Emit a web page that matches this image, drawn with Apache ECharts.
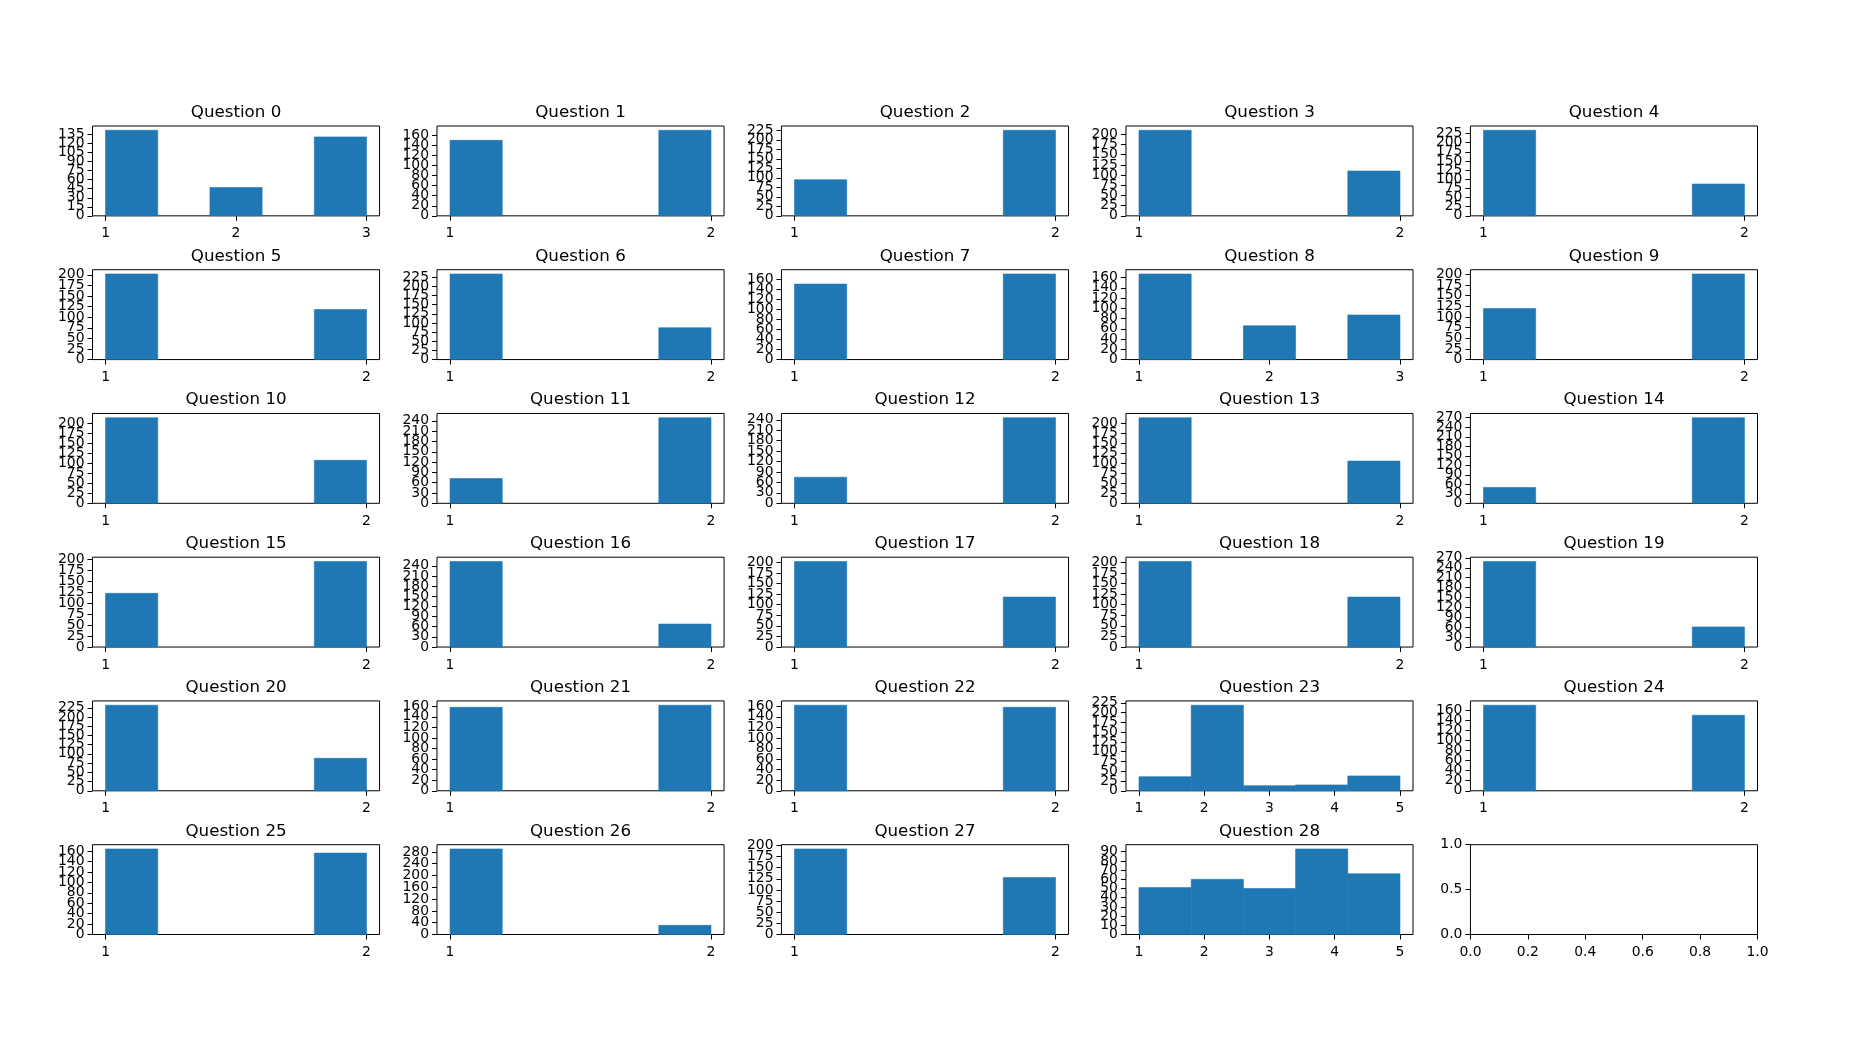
<!DOCTYPE html>
<html>
<head>
<meta charset="utf-8">
<script src="https://cdn.jsdelivr.net/npm/echarts@6/dist/echarts.min.js"></script>
<style>html,body{margin:0;padding:0;background:#fff;}#chart{width:1850px;height:1050px;}</style>
</head>
<body>
<div id="chart"></div>
<script>
// ---- data ----
const titles = Array.from({length: 29}, (_, i) => 'Question ' + i);
const levels = [
  [1,2,3],[1,2],[1,2],[1,2],[1,2],
  [1,2],[1,2],[1,2],[1,2,3],[1,2],
  [1,2],[1,2],[1,2],[1,2],[1,2],
  [1,2],[1,2],[1,2],[1,2],[1,2],
  [1,2],[1,2],[1,2],[1,2,3,4,5],[1,2],
  [1,2],[1,2],[1,2],[1,2,3,4,5]
];
const counts = [
  [142,47,131],[150,170],[95,225],[210,110],[234,87],
  [202,118],[234,87],[150,170],[167,66,87],[120,201],
  [213,107],[72,249],[75,246],[213,105],[50,270],
  [123,196],[253,68],[202,118],[202,118],[259,61],
  [232,88],[158,162],[162,158],[36,219,13,15,38],[170,150],
  [164,156],[290,31],[192,128],[51,60,50,93,66]
];
const yTickStep = [
  15,20,25,25,25,
  25,25,20,20,25,
  25,30,30,25,30,
  25,30,25,25,30,
  25,20,20,25,20,
  20,40,25,10
];
const emptyXTicks = [0.0,0.2,0.4,0.6,0.8,1.0];
const emptyYTicks = [0.0,0.5,1.0];
const nBins = 5;

// ---- layout (matplotlib-like subplot grid) ----
const W = 1850, H = 1050;
const nRows = 6, nCols = 5;
const L = 0.05*W, R = 0.95*W, T = 0.12*H, B = 0.89*H;
const wsp = 0.2, hsp = 0.6;
const cw = (R - L) / (nCols + (nCols-1)*wsp);
const ch = (B - T) / (nRows + (nRows-1)*hsp);
const blue = '#1f77b4';
const font = 'DejaVu Sans';

const grids = [], xAxes = [], yAxes = [], series = [], titleList = [];

function onStep(v, step) {
  const q = v / step;
  return Math.abs(q - Math.round(q)) < 1e-6;
}

function makeAxis(k, min, max, vals, fmt, isY) {
  return {
    gridIndex: k, type: 'value', min: min, max: max, position: isY ? 'left' : 'bottom', offset: 0,
    axisLine: {show: false},
    splitLine: {show: false},
    axisTick: {show: true, inside: false, length: 5, lineStyle: {color: '#000', width: 1}, customValues: vals},
    axisLabel: {show: true, color: '#000', fontFamily: font, fontSize: 13.9, margin: isY ? 8 : 11,
      showMinLabel: true, showMaxLabel: true, hideOverlap: false, customValues: vals, formatter: fmt}
  };
}

for (let k = 0; k < nRows*nCols; k++) {
  const r = Math.floor(k / nCols), c = k % nCols;
  const left = L + c*cw*(1+wsp);
  const top = T + r*ch*(1+hsp);
  grids.push({left: left, top: top, width: cw, height: ch, show: true,
    borderColor: '#000', borderWidth: 1, backgroundColor: 'transparent', containLabel: false});

  let xmin, xmax, xt, xfmt, ymax, yt, yfmt;
  if (k < titles.length) {
    const lv = levels[k], ct = counts[k];
    const lo = Math.min(...lv), hi = Math.max(...lv);
    const span = hi - lo, bw = span / nBins;
    const data = lv.map((v, i) => {
      const idx = Math.min(nBins-1, Math.floor((v - lo)/bw + 1e-9));
      return [lo + idx*bw, lo + (idx+1)*bw, ct[i]];
    });
    ymax = Math.max(...ct) * 1.05;
    const step = yTickStep[k];
    yt = [];
    for (let v = 0; v <= ymax + 1e-9; v += step) yt.push(v);
    xmin = lo - 0.05*span; xmax = hi + 0.05*span; xt = lv;
    xfmt = v => (lv.indexOf(v) >= 0 ? String(v) : '');
    yfmt = v => (onStep(v, step) ? String(Math.round(v)) : '');

    series.push({
      type: 'custom', xAxisIndex: k, yAxisIndex: 2*k,
      encode: {x: [0, 1], y: 2},
      data: data, silent: true, animation: false,
      renderItem: function (params, api) {
        const p0 = api.coord([api.value(0), api.value(2)]);
        const p1 = api.coord([api.value(1), 0]);
        return {type: 'rect',
          shape: {x: p0[0], y: p0[1], width: p1[0]-p0[0], height: p1[1]-p0[1]},
          style: {fill: blue, stroke: blue, lineWidth: 0.6}};
      }
    });
    titleList.push({
      text: titles[k], left: left + cw/2, top: top - 22, textAlign: 'center', padding: 0,
      textStyle: {fontFamily: font, fontSize: 16.7, fontWeight: 'normal', color: '#000'}
    });
  } else {
    xmin = 0; xmax = 1; xt = emptyXTicks; xfmt = v => v.toFixed(1);
    ymax = 1; yt = emptyYTicks; yfmt = v => v.toFixed(1);
  }
  xAxes.push(makeAxis(k, xmin, xmax, xt, xfmt, false));
  // two overlaid y axes (alternate ticks) so that crowded labels are all kept
  const yEven = yt.filter((_, i) => i % 2 === 0);
  const yOdd = yt.filter((_, i) => i % 2 === 1);
  yAxes.push(makeAxis(k, 0, ymax, yEven, yfmt, true));
  yAxes.push(makeAxis(k, 0, ymax, yOdd.length ? yOdd : yEven, yfmt, true));
}

const chart = echarts.init(document.getElementById('chart'), null, {renderer: 'canvas'});
chart.setOption({
  animation: false,
  backgroundColor: '#fff',
  title: titleList,
  grid: grids,
  xAxis: xAxes,
  yAxis: yAxes,
  series: series
});
</script>
</body>
</html>
